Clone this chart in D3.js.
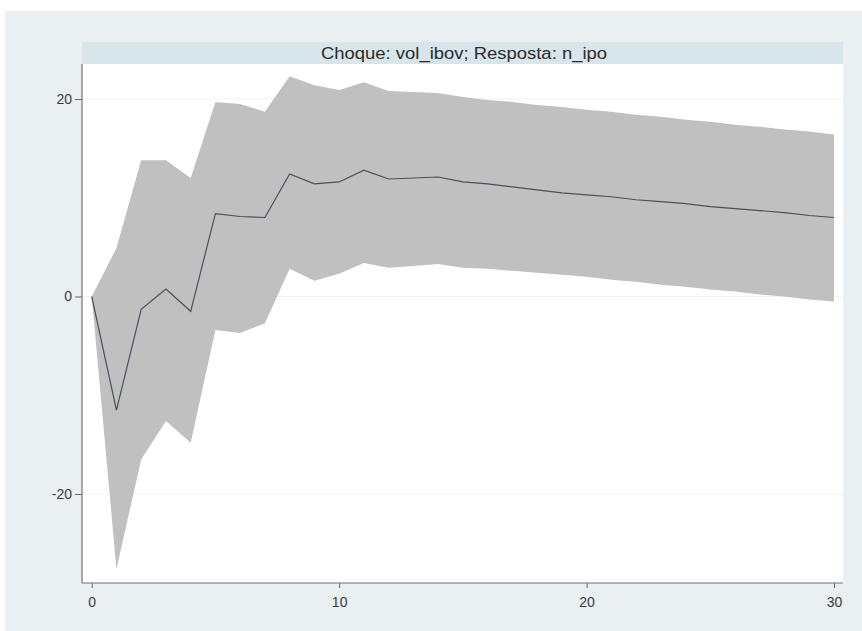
<!DOCTYPE html>
<html>
<head>
<meta charset="utf-8">
<script src="https://cdn.jsdelivr.net/npm/d3@7"></script>
<style>
  html, body { margin: 0; padding: 0; background: #ffffff; }
  svg { display: block; }
</style>
</head>
<body>
<script>
// ---- data ----
const steps = [0,1,2,3,4,5,6,7,8,9,10,11,12,13,14,15,16,17,18,19,20,21,22,23,24,25,26,27,28,29,30];
const irf   = [0,-11.5,-1.3,0.75,-1.5,8.4,8.1,8.0,12.4,11.4,11.6,12.8,11.9,12.0,12.1,11.6,11.4,11.1,10.8,10.5,10.3,10.1,9.8,9.6,9.4,9.1,8.9,8.7,8.5,8.2,8.0];
const upper = [0,4.9,13.8,13.8,12.0,19.7,19.5,18.7,22.3,21.4,20.9,21.7,20.8,20.7,20.6,20.2,19.9,19.7,19.4,19.2,18.9,18.7,18.4,18.2,17.9,17.7,17.4,17.2,16.9,16.7,16.4];
const lower = [0,-27.6,-16.5,-12.6,-14.8,-3.4,-3.7,-2.7,2.8,1.6,2.3,3.4,2.9,3.1,3.3,2.9,2.8,2.6,2.4,2.2,2.0,1.7,1.5,1.2,1.0,0.7,0.5,0.2,0.0,-0.3,-0.5];
const xTicks = [0,10,20,30];
const yTicks = [-20,0,20];
const titleText = "Choque: vol_ibov; Resposta: n_ipo";

// ---- layout ----
const W = 862, H = 631;
const plot = {left: 82, right: 843, top: 64, bottom: 583};
const FONT = "'Liberation Sans', Arial, sans-serif";

const svg = d3.select("body").append("svg").attr("width", W).attr("height", H)
  .style("font-family", FONT);

// outer background
svg.append("rect").attr("x", 5).attr("y", 11).attr("width", W - 5).attr("height", H - 11).attr("fill", "#eaeff2");

// title strip
svg.append("rect").attr("x", plot.left).attr("y", 42).attr("width", plot.right - plot.left).attr("height", plot.top - 42)
  .attr("fill", "#d8e5ea");
svg.append("text").attr("x", 464).attr("y", 59).attr("text-anchor", "middle")
  .attr("font-size", 16).attr("textLength", 286).attr("lengthAdjust", "spacingAndGlyphs")
  .attr("fill", "#2b2b2b").text(titleText);

// plot region
svg.append("rect").attr("x", plot.left).attr("y", plot.top).attr("width", plot.right - plot.left).attr("height", plot.bottom - plot.top)
  .attr("fill", "#ffffff");

const x = d3.scaleLinear().domain([0, 30]).range([91.7, 834]);
const y = d3.scaleLinear().domain([-20, 20]).range([494, 99]);

// gridlines
svg.append("g").selectAll("line").data(yTicks).join("line")
  .attr("x1", plot.left).attr("x2", plot.right)
  .attr("y1", d => y(d)).attr("y2", d => y(d))
  .attr("stroke", "#eef2f4").attr("stroke-width", 1);

const rows = steps.map((s, i) => ({s, v: irf[i], lo: lower[i], hi: upper[i]}));

// CI band
svg.append("path").datum(rows)
  .attr("d", d3.area().x(d => x(d.s)).y0(d => y(d.lo)).y1(d => y(d.hi)))
  .attr("fill", "#c0c0c0");

// IRF line
svg.append("path").datum(rows)
  .attr("d", d3.line().x(d => x(d.s)).y(d => y(d.v)))
  .attr("fill", "none").attr("stroke", "#46505c").attr("stroke-width", 1.2);

// axes
const fmt = d => String(d);
const xAxis = svg.append("g").attr("transform", `translate(0,${plot.bottom})`)
  .call(d3.axisBottom(x).tickValues(xTicks).tickSize(5).tickPadding(9).tickFormat(fmt));
const yAxis = svg.append("g").attr("transform", `translate(${plot.left},0)`)
  .call(d3.axisLeft(y).tickValues(yTicks).tickSize(7).tickPadding(3).tickFormat(fmt));
[xAxis, yAxis].forEach(g => {
  g.attr("font-size", 14);
  g.select(".domain").remove();
  g.selectAll(".tick line").attr("stroke", "#666");
  g.selectAll(".tick text").attr("fill", "#3a3a3a").attr("font-size", 14)
    .style("font-family", FONT);
});

// axis lines
svg.append("line").attr("x1", plot.left).attr("x2", plot.left).attr("y1", plot.top).attr("y2", plot.bottom)
  .attr("stroke", "#707070").attr("stroke-width", 1.2);
svg.append("line").attr("x1", plot.left).attr("x2", plot.right).attr("y1", plot.bottom).attr("y2", plot.bottom)
  .attr("stroke", "#707070").attr("stroke-width", 1.2);
</script>
</body>
</html>
